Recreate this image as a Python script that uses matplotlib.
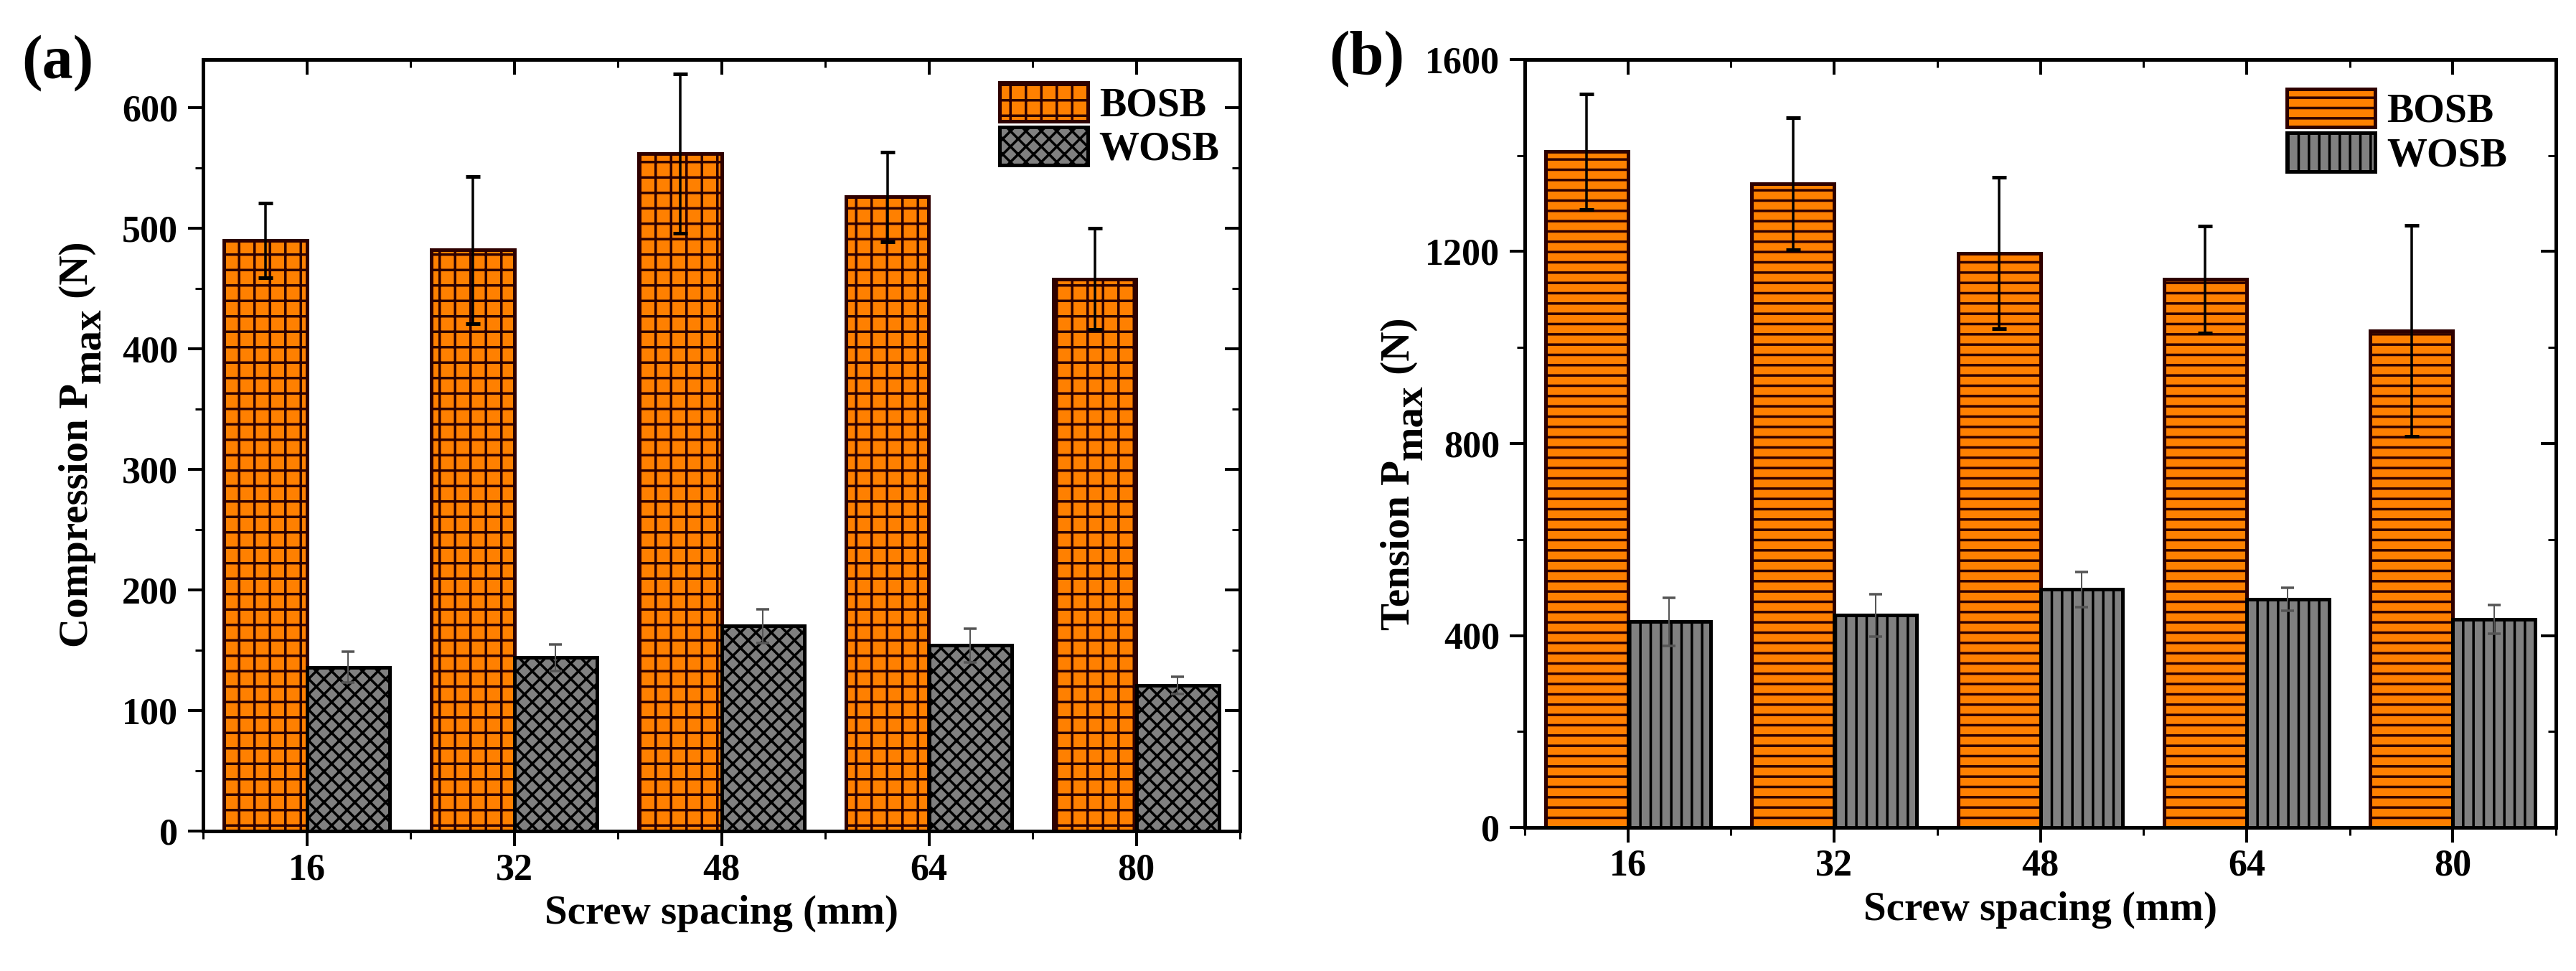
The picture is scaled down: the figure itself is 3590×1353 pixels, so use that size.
import matplotlib
matplotlib.use("Agg")
import matplotlib.pyplot as plt
import numpy as np

# screw spacing groups
spacing_labels = ["16", "32", "48", "64", "80"]
series_names = ["BOSB", "WOSB"]

# (a) compression P_max (N)
comp_bosb = [490, 482, 562, 526, 458]
comp_bosb_err = [31, 61, 66, 37, 42]
comp_wosb = [136, 144, 170, 154, 121]
comp_wosb_err = [13, 11, 14, 14, 7]

# (b) tension P_max (N)
tens_bosb = [1408, 1341, 1197, 1142, 1035]
tens_bosb_err = [120, 138, 158, 111, 220]
tens_wosb = [429, 442, 496, 475, 434]
tens_wosb_err = [50, 44, 37, 24, 30]

W, H = 3590, 1353
DPI = 258  # chosen so the hatch tile gives the spacing of the original


def px(v):
    # pixels -> points
    return v * 72 / DPI


plt.rcParams["font.family"] = ["Liberation Serif", "DejaVu Serif"]
plt.rcParams["font.weight"] = "bold"
plt.rcParams["axes.labelweight"] = "bold"
plt.rcParams["hatch.linewidth"] = px(3.5)

ORANGE = "#ff8000"
GREY = "#808080"
MAROON = "#2e0000"

fig = plt.figure(figsize=(W / DPI, H / DPI), dpi=DPI)
ax_a = fig.add_axes([283 / W, (H - 1158) / H, 1445 / W, 1075 / H])
ax_b = fig.add_axes([2125 / W, (H - 1153) / H, 1437 / W, 1070 / H])

x = np.arange(len(spacing_labels))
bw = 0.4


def style_axes(ax, ymax, ymajor, yminor):
    ax.set_xlim(-0.5, len(x) - 0.5)
    ax.set_ylim(0, ymax)
    ax.set_xticks(x, spacing_labels)
    ax.set_xticks(np.arange(-0.5, len(x), 1), minor=True)
    ax.set_yticks(np.arange(0, ymax + 1, ymajor))
    ax.set_yticks(np.arange(0, ymax + 1, yminor), minor=True)
    for s in ax.spines.values():
        s.set_linewidth(px(5))
    ax.tick_params(which="both", direction="out", top=False, right=False,
                   labelsize=px(52))
    ax.tick_params(which="major", length=px(21), width=px(4))
    ax.tick_params(which="minor", length=px(11), width=px(3))
    ax.tick_params(axis="y", pad=px(14))
    ax.tick_params(axis="x", pad=px(9))
    # inward ticks on top and right, like the original
    top = ax.secondary_xaxis("top")
    top.set_xticks(x, [""] * len(x))
    top.set_xticks(np.arange(-0.5, len(x), 1), minor=True)
    right = ax.secondary_yaxis("right")
    yt = np.arange(0, ymax + 1, ymajor)
    right.set_yticks(yt, [""] * len(yt))
    right.set_yticks(np.arange(0, ymax + 1, yminor), minor=True)
    for sec in (top, right):
        for s in sec.spines.values():
            s.set_linewidth(px(5))
        sec.tick_params(which="both", direction="in")
        sec.tick_params(which="major", length=px(21), width=px(4))
        sec.tick_params(which="minor", length=px(11), width=px(3))
    ax.set_xlabel("Screw spacing (mm)", fontsize=px(57), labelpad=px(11),
                  fontweight="bold")


def draw_panel(ax, bosb, bosb_err, wosb, wosb_err, hatch_b, hatch_w):
    ax.bar(x - bw / 2, bosb, bw, color=ORANGE, edgecolor=MAROON,
           linewidth=px(5), hatch=hatch_b, label=series_names[0])
    ax.bar(x + bw / 2, wosb, bw, color=GREY, edgecolor="black",
           linewidth=px(5), hatch=hatch_w, label=series_names[1])
    ax.errorbar(x - bw / 2, bosb, yerr=bosb_err, fmt="none", ecolor="black",
                elinewidth=px(3.5), capsize=px(10), capthick=px(5), zorder=3)
    ax.errorbar(x + bw / 2, wosb, yerr=wosb_err, fmt="none", ecolor="#555555",
                elinewidth=px(2), capsize=px(9), capthick=px(3.5), zorder=3)


draw_panel(ax_a, comp_bosb, comp_bosb_err, comp_wosb, comp_wosb_err, "++", "xxxx")
draw_panel(ax_b, tens_bosb, tens_bosb_err, tens_wosb, tens_wosb_err, "---", "|||")
style_axes(ax_a, 640, 100, 50)
style_axes(ax_b, 1600, 400, 200)

leg_kw = dict(frameon=False, fontsize=px(56), borderpad=0, borderaxespad=0,
              handlelength=2.2, handleheight=1.09, labelspacing=0.07,
              handletextpad=0.28, loc="upper left")
ax_a.legend(bbox_to_anchor=(0.768, 0.97), **leg_kw)
ax_b.legend(bbox_to_anchor=(0.739, 0.962), **leg_kw)

# y labels with a full-size "max" subscript, built from pieces
renderer = fig.canvas.get_renderer()


def ylabel_parts(x_base, y_start, word):
    kw = dict(rotation=90, rotation_mode="anchor", ha="left", va="baseline",
              fontsize=px(57), fontweight="bold")
    t1 = fig.text(x_base / W, y_start / H, word + " P", **kw)
    y1 = t1.get_window_extent(renderer).y1
    t2 = fig.text((x_base + 18) / W, y1 / H, "max", **kw)
    y2 = t2.get_window_extent(renderer).y1
    fig.text(x_base / W, y2 / H, " (N)", **kw)


ylabel_parts(122, H - 902, "Compression")
ylabel_parts(1964, H - 878, "Tension")

fig.text(30 / W, (H - 108) / H, "(a)", fontsize=px(86), fontweight="bold",
         ha="left", va="baseline")
fig.text(1852 / W, (H - 102) / H, "(b)", fontsize=px(86), fontweight="bold",
         ha="left", va="baseline")

fig.savefig("out.png", dpi=DPI, facecolor="white")
